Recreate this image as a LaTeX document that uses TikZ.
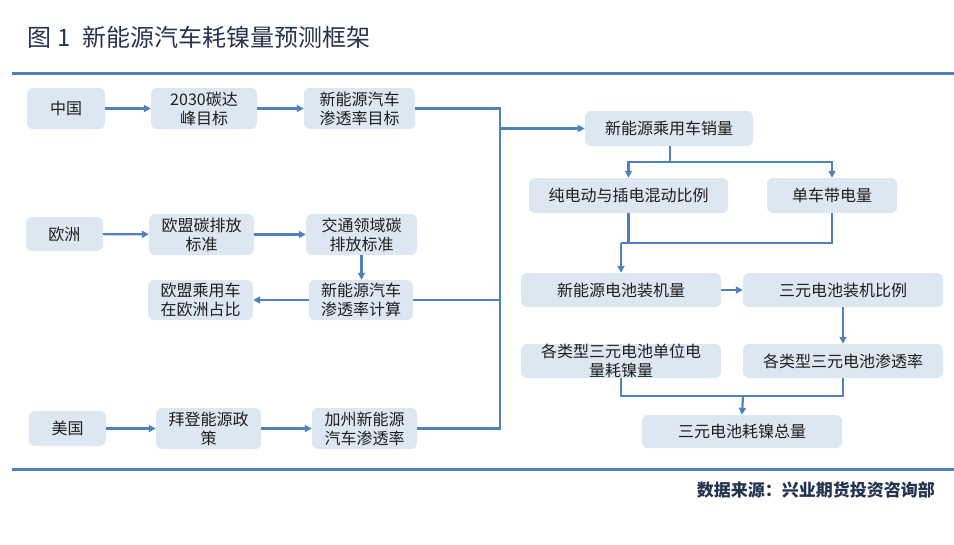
\documentclass[tikz,border=0pt]{standalone}
\usepackage{fontspec}
\setmainfont{Noto Sans CJK SC}
\usetikzlibrary{arrows.meta}
\definecolor{lineblue}{RGB}{79,129,189}
\definecolor{boxfill}{RGB}{221,231,242}
\definecolor{titlec}{RGB}{38,52,80}
\definecolor{txt}{RGB}{30,30,30}
\begin{document}
\begin{tikzpicture}[x=1pt,y=-1pt,
 box/.style={fill=boxfill, rounded corners=6pt, inner sep=0pt, align=center,
   font=\fontsize{16}{19}\selectfont, text=txt},
 conn/.style={draw=lineblue, line width=2.2pt},
 arr/.style={conn, -{Triangle[length=7pt,width=7pt]}}
]
\useasboundingbox (0,0) rectangle (954,544);
% title and rules
\node[anchor=west, inner sep=0pt, font=\fontsize{24}{28}\selectfont, text=titlec] (title) at (27,37)
  {图\hspace{6pt}1\hspace{12pt}新能源汽车耗镍量预测框架};
\draw[lineblue, line width=3pt] (12,73) -- (954,73);
\draw[lineblue, line width=3pt] (12,469.5) -- (954,469.5);
\node[anchor=east, inner sep=0pt, font=\bfseries\fontsize{17}{20}\selectfont, text=titlec] (src) at (935,490)
  {数据来源：兴业期货投资咨询部};
% China row
\node[box, minimum width=78pt, minimum height=41pt] (cn) at (66,108.5) {中国};
\node[box, minimum width=106pt, minimum height=41pt] (c2030) at (204,108.5) {2030碳达\\峰目标};
\node[box, minimum width=111pt, minimum height=41pt] (cnp) at (359.5,108.5) {新能源汽车\\渗透率目标};
% Europe rows
\node[box, minimum width=77pt, minimum height=34pt] (eu) at (64.5,234) {欧洲};
\node[box, minimum width=105pt, minimum height=41pt] (eustd) at (201.5,234.5) {欧盟碳排放\\标准};
\node[box, minimum width=111pt, minimum height=41pt] (trans) at (361.5,234.5) {交通领域碳\\排放标准};
\node[box, minimum width=104pt, minimum height=40pt] (eucalc) at (361,300) {新能源汽车\\渗透率计算};
\node[box, minimum width=105pt, minimum height=40pt] (eushare) at (200.5,300) {欧盟乘用车\\在欧洲占比};
% US row
\node[box, minimum width=77pt, minimum height=35pt] (us) at (67.5,428.5) {美国};
\node[box, minimum width=105pt, minimum height=41pt] (biden) at (208.5,428.5) {拜登能源政\\策};
\node[box, minimum width=105pt, minimum height=41pt] (uspen) at (364.5,428.5) {加州新能源\\汽车渗透率};
% right side
\node[box, minimum width=168pt, minimum height=35pt] (sales) at (669,128.5) {新能源乘用车销量};
\node[box, minimum width=199pt, minimum height=35pt] (ratio) at (628.5,195.5) {纯电动与插电混动比例};
\node[box, minimum width=130pt, minimum height=35pt] (perveh) at (832,195.5) {单车带电量};
\node[box, minimum width=200pt, minimum height=34pt] (install) at (621,290) {新能源电池装机量};
\node[box, minimum width=200pt, minimum height=34pt] (ternary) at (843,290) {三元电池装机比例};
\node[box, minimum width=200pt, minimum height=34pt] (unit) at (621,361) {各类型三元电池单位电\\量耗镍量};
\node[box, minimum width=200pt, minimum height=34pt] (pen) at (843,361) {各类型三元电池渗透率};
\node[box, minimum width=200pt, minimum height=33pt] (total) at (742,431.5) {三元电池耗镍总量};
% coordinates
\coordinate (bt) at (500,108.5);
\coordinate (bb) at (500,428.5);
\coordinate (bj) at (500,128.5);
\coordinate (s1) at (670,162);
\coordinate (m1) at (621,243);
\coordinate (m2) at (743,396);
% left connectors
\draw[arr] (cn) -- (c2030);
\draw[arr] (c2030) -- (cnp);
\draw[arr] (eu) -- (eustd);
\draw[arr] (eustd) -- (trans);
\draw[arr] (trans.south) -- (trans.south |- eucalc.north);
\draw[arr] (eucalc) -- (eushare);
\draw[arr] (us) -- (biden);
\draw[arr] (biden) -- (uspen);
% bus
\draw[conn] (cnp.east) -- (bt) -- (bb) -- (uspen.east);
\draw[conn] (eucalc.east) -- (eucalc.east -| bt);
\draw[arr] (bj) -- (sales.west);
% right connectors
\draw[conn] (sales.south -| s1) -- (s1);
\draw[arr] (s1) -| (ratio.north);
\draw[arr] (s1) -| (perveh.north);
\draw[conn] (ratio.south) -- (ratio.south |- m1);
\draw[conn] (perveh.south) |- (m1);
\draw[arr] (m1) -- (install.north);
\draw[arr] (install) -- (ternary);
\draw[arr] (ternary.south) -- (pen.north);
\draw[conn] (unit.south) |- (m2);
\draw[conn] (pen.south) |- (m2);
\draw[arr] (m2) -- (total.north);
\end{tikzpicture}
\end{document}
